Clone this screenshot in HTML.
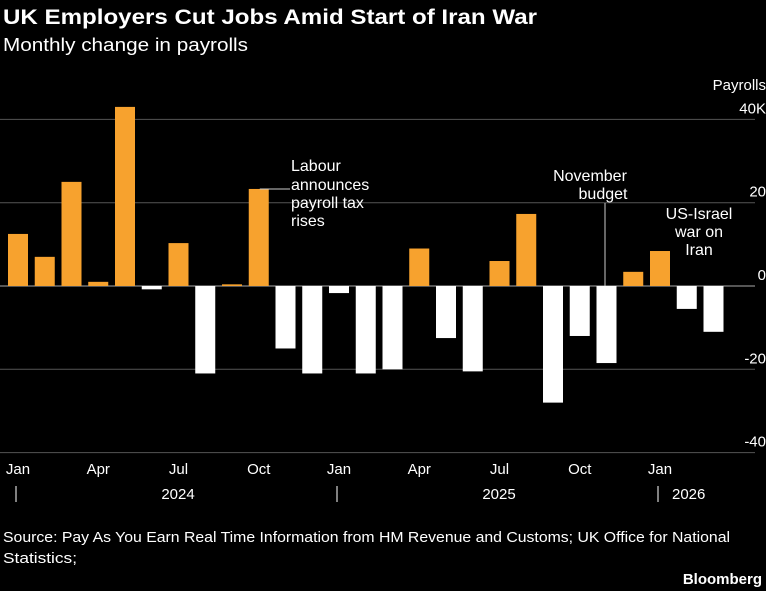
<!DOCTYPE html>
<html><head><meta charset="utf-8"><style>
body{margin:0;background:#000;width:766px;height:591px;overflow:hidden}
svg{display:block;font-family:"Liberation Sans",sans-serif}
</style></head><body>
<svg id="chart" width="766" height="591">
<text x="3" y="24" fill="#fff" font-size="21" font-weight="bold" textLength="534" lengthAdjust="spacingAndGlyphs">UK Employers Cut Jobs Amid Start of Iran War</text>
<text x="3" y="51" fill="#fff" font-size="18" textLength="245" lengthAdjust="spacingAndGlyphs">Monthly change in payrolls</text>
<g id="grid"></g><g id="bars"></g><g id="ann"></g><g id="xaxis"></g>
<text x="3" y="542" fill="#fff" font-size="15" textLength="727" lengthAdjust="spacingAndGlyphs">Source: Pay As You Earn Real Time Information from HM Revenue and Customs; UK Office for National</text>
<text x="3" y="563" fill="#fff" font-size="15" textLength="74" lengthAdjust="spacingAndGlyphs">Statistics;</text>
<text x="762" y="584" fill="#fff" font-size="15" font-weight="bold" text-anchor="end">Bloomberg</text>
</svg>
<script>
const values=[12.5,7,25,1,43,-0.8,10.3,-21,0.4,23.3,-15,-21,-1.7,-21,-20,9,-12.5,-20.5,6,17.3,-28,-12,-18.5,3.4,8.4,-5.5,-11];
const yTicks=[40,20,0,-20,-40];
const yTickLabels=["40K","20","0","-20","-40"];
const monthLabels=["Jan","Apr","Jul","Oct","Jan","Apr","Jul","Oct","Jan"];
const monthIdx=[0,3,6,9,12,15,18,21,24];
const yearLabels=["2024","2025","2026"];
const NS="http://www.w3.org/2000/svg";
const y=v=>286-v*4.165;
const x=i=>18+i*26.75;
function mk(t,a,p){const e=document.createElementNS(NS,t);for(const k in a)e.setAttribute(k,a[k]);p.appendChild(e);return e;}
const grid=document.getElementById('grid');
yTicks.forEach((t,i)=>{
 const l=mk('line',{x1:0,x2:755,y1:y(t),y2:y(t),stroke:t===0?'#aaa':'#555','stroke-width':1},grid);
 
 
 const tx=mk('text',{x:766,y:y(t)-6,fill:'#fff','font-size':15,'text-anchor':'end'},grid);
 tx.textContent=yTickLabels[i];
 
 
});
const yt=mk('text',{x:766,y:90,fill:'#fff','font-size':15,'text-anchor':'end'},grid);
yt.textContent='Payrolls';


const bars=document.getElementById('bars');
values.forEach((v,i)=>{
 const b=mk('rect',{x:x(i)-10,width:20,y:Math.min(y(v),y(0)),height:Math.max(1,Math.abs(y(v)-y(0))),fill:v>=0?'#f7a22e':'#fff'},bars);
 
 
});
const ann=document.getElementById('ann');
mk('line',{x1:x(9)+1,x2:290,y1:189,y2:189,stroke:'#ccc'},ann);
mk('line',{x1:605,x2:605,y1:203,y2:286,stroke:'#ccc'},ann);
[["Labour",291,171],["announces",291,190],["payroll tax",291,208],["rises",291,226]].forEach(a=>{
 const t=mk('text',{x:a[1],y:a[2],fill:'#fff','font-size':16},ann);t.textContent=a[0];
 
 
});
[["November",590,181],["budget",603,199]].forEach(a=>{
 const t=mk('text',{x:a[1],y:a[2],fill:'#fff','font-size':16,'text-anchor':'middle'},ann);t.textContent=a[0];
 
 
});
[["US-Israel",699,219],["war on",699,237],["Iran",699,255]].forEach(a=>{
 const t=mk('text',{x:a[1],y:a[2],fill:'#fff','font-size':16,'text-anchor':'middle'},ann);t.textContent=a[0];
 
 
});
const xa=document.getElementById('xaxis');
monthLabels.forEach((m,i)=>{
 const t=mk('text',{x:x(monthIdx[i]),y:474,fill:'#fff','font-size':15,'text-anchor':'middle'},xa);t.textContent=m;
 
 
});
[0,12,24].forEach((mi,i)=>{
 mk('line',{x1:x(mi)-2,x2:x(mi)-2,y1:486,y2:502,stroke:'#fff'},xa);
 const t=mk('text',{x:i<2?x(mi)+160:x(mi)+12,y:499,fill:'#fff','font-size':15,'text-anchor':i<2?'middle':'start'},xa);
 t.textContent=yearLabels[i];
 
 
});
</script>
</body></html>
